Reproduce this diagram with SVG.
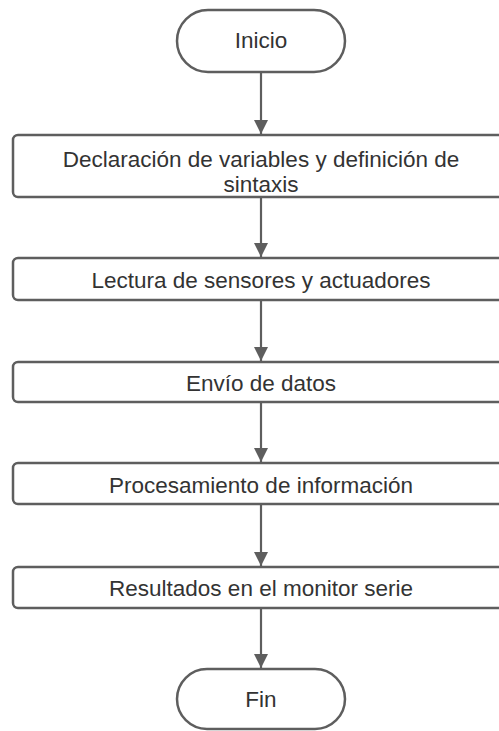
<svg xmlns="http://www.w3.org/2000/svg" width="499" height="731" viewBox="0 0 499 731">
<style>
.shape{fill:#ffffff;stroke:#5e5e5e;stroke-width:2.5}
.conn{stroke:#5e5e5e;stroke-width:2.2;fill:none}
text{font-family:"Liberation Sans",Arial,sans-serif;font-size:22.5px;fill:#333333;text-anchor:middle}
</style>
<defs>
<marker id="arrow" markerUnits="userSpaceOnUse" markerWidth="14" markerHeight="18" refX="12" refY="6" orient="auto" viewBox="0 0 12 12">
<path d="M0,0 L12,6 L0,12 Z" fill="#5e5e5e"/>
</marker>
</defs>
<rect width="499" height="731" fill="#ffffff"/>
<g id="connectors">
<line class="conn" x1="261" y1="72" x2="261" y2="134" marker-end="url(#arrow)"/>
<line class="conn" x1="261" y1="197" x2="261" y2="257" marker-end="url(#arrow)"/>
<line class="conn" x1="261" y1="300" x2="261" y2="361" marker-end="url(#arrow)"/>
<line class="conn" x1="261" y1="402" x2="261" y2="462" marker-end="url(#arrow)"/>
<line class="conn" x1="261" y1="504" x2="261" y2="566" marker-end="url(#arrow)"/>
<line class="conn" x1="261" y1="608" x2="261" y2="668" marker-end="url(#arrow)"/>
</g>
<g id="inicio">
<rect class="shape" x="177" y="10" width="168" height="62" rx="31" ry="31"/>
<text x="261" y="48">Inicio</text>
</g>
<g id="declaracion">
<rect class="shape" x="13" y="135" width="496" height="62" rx="5" ry="5"/>
<text x="261" y="167">Declaración de variables y definición de</text>
<text x="261" y="192">sintaxis</text>
</g>
<g id="lectura">
<rect class="shape" x="13" y="258" width="496" height="42" rx="5" ry="5"/>
<text x="261" y="288">Lectura de sensores y actuadores</text>
</g>
<g id="envio">
<rect class="shape" x="13" y="362" width="496" height="40" rx="5" ry="5"/>
<text x="261" y="391">Envío de datos</text>
</g>
<g id="procesamiento">
<rect class="shape" x="13" y="463" width="496" height="41" rx="5" ry="5"/>
<text x="261" y="493">Procesamiento de información</text>
</g>
<g id="resultados">
<rect class="shape" x="13" y="567" width="496" height="41" rx="5" ry="5"/>
<text x="261" y="596">Resultados en el monitor serie</text>
</g>
<g id="fin">
<rect class="shape" x="177" y="669" width="168" height="60" rx="30" ry="30"/>
<text x="261" y="707">Fin</text>
</g>
</svg>
